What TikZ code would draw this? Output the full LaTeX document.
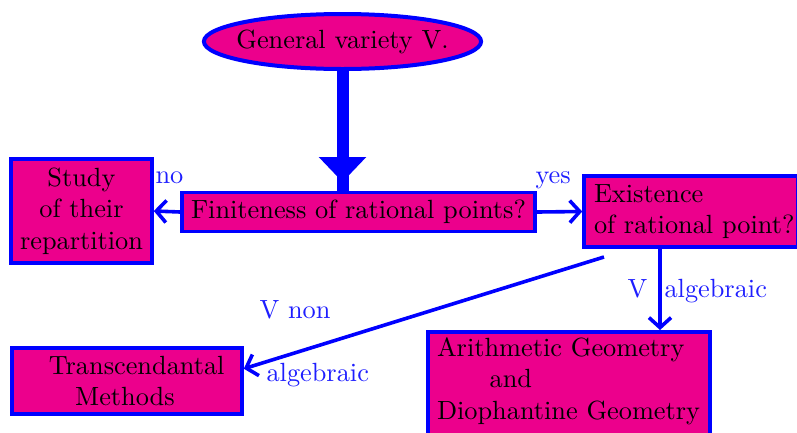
\documentclass[tikz,border=0pt]{standalone}
\usetikzlibrary{shapes.geometric,arrows.meta}
\definecolor{mag}{RGB}{236,0,140}
\definecolor{lab}{RGB}{30,30,255}
\newdimen\pxu \pxu=0.38pt
\begin{document}
\begin{tikzpicture}[x=0.38pt,y=-0.38pt,
  box/.style={draw=blue, fill=mag, line width=3.6\pxu, rectangle, inner ysep=0pt},
  lbl/.style={text=lab, inner sep=0pt, anchor=base west},
  arr/.style={draw=blue, line width=3.6\pxu, -{Straight Barb[length=3.8pt,width=8.4pt]}}]
\useasboundingbox (0,0) rectangle (797,432);
\node[ellipse, draw=blue, fill=mag, line width=4\pxu, minimum height=55\pxu, inner xsep=-3.1pt, inner ysep=0pt] (gen) at (342.5,41.5) {General variety V.};
\node[box, minimum width=353\pxu, minimum height=39\pxu, inner xsep=0pt] (fin) at (358.5,212) {Finiteness of rational points?};
\node[box, minimum width=141\pxu, minimum height=104\pxu, inner xsep=0pt, align=center] (study) at (81.5,211) {Study\\ of their\\ repartition};
\node[box, minimum width=214\pxu, minimum height=71\pxu, inner xsep=0pt, text width=214\pxu, align=left] (exist) at (691,211.5) {\hspace*{3.8pt}Existence\\ \hspace*{3.8pt}of rational point?};
\node[box, minimum width=230\pxu, minimum height=66\pxu, inner xsep=0pt, text width=230\pxu, align=left] (trans) at (127,381) {\hspace*{14pt}Transcendantal\\ \hspace*{24pt}Methods};
\node[box, anchor=north, minimum width=282\pxu, inner xsep=9\pxu, inner ysep=5.5\pxu, text width=264\pxu, text depth=36pt, align=left] (arith) at (569,330) {Arithmetic Geometry\\ \hspace*{2em}and\\ Diophantine Geometry};
% thick arrow
\coordinate (top) at (gen.south);
\coordinate (bot) at (top |- fin.north);
\coordinate (hd) at (342.5,182);
\draw[blue, line width=12\pxu] (top) -- (bot);
\draw[blue, line width=12\pxu, -{Triangle[length=9.5pt,width=17.5pt]}] (top) -- (hd);
% side arrows
\draw[arr] (fin.west) -- (study.east);
\draw[arr] (fin.east) -- (exist.west);
\coordinate (s1) at (604,257);
\draw[arr] (s1) -- (trans.6);
\coordinate (s2) at (660,249);
\draw[arr] (s2) -- (s2 |- arith.north);
% labels
\node[lbl] (lno) at (155,183) {no};
\node[lbl] (lyes) at (535,183) {yes};
\node[lbl] (lvn) at (259,318) {V non};
\node[lbl] (lalg1) at (266,381) {algebraic};
\node[lbl] (lv) at (627,297) {V};
\node[lbl] (lalg2) at (664,297) {algebraic};
\end{tikzpicture}
\end{document}
